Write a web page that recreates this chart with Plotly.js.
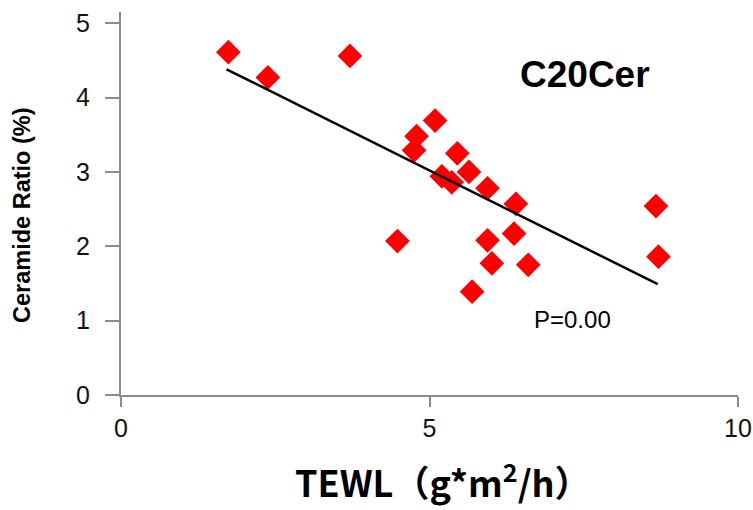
<!DOCTYPE html>
<html>
<head>
<meta charset="utf-8">
<script src="https://cdn.plot.ly/plotly-3.0.1.min.js"></script>
<style>html,body{margin:0;padding:0;background:#fff;}#chart{width:753px;height:510px;}</style>
</head>
<body>
<div id="chart"></div>
<script>
// TEWL values (x) and ceramide ratio (y)
const tewl = [1.74, 2.38, 3.71, 5.09, 4.79, 4.75, 5.45, 5.20, 5.36, 5.64,
              4.48, 5.69, 5.94, 6.40, 8.67, 5.94, 6.37, 6.01, 6.60, 8.71];
const ceramideRatio = [4.61, 4.27, 4.56, 3.69, 3.48, 3.29, 3.25, 2.94, 2.86, 3.00,
                       2.07, 1.39, 2.78, 2.57, 2.54, 2.08, 2.17, 1.77, 1.75, 1.86];
// regression line end points
const trendX = [1.71, 8.70];
const trendY = [4.38, 1.49];
const xTicks = [0, 5, 10];
const yTicks = [0, 1, 2, 3, 4, 5];

const axisGray = '#8c8c8c';

const traces = [
  {
    x: tewl, y: ceramideRatio, type: 'scatter', mode: 'markers',
    marker: {symbol: 'diamond', size: 19, color: '#ff0000', line: {width: 0}},
    hoverinfo: 'x+y', showlegend: false
  },
  {
    x: trendX, y: trendY, type: 'scatter', mode: 'lines',
    line: {color: '#000000', width: 2.5}, showlegend: false
  }
];

const layout = {
  width: 753, height: 510,
  margin: {l: 121, r: 15, t: 12, b: 115},
  paper_bgcolor: '#ffffff', plot_bgcolor: '#ffffff',
  font: {family: 'Liberation Sans, Arial, sans-serif', color: '#000'},
  xaxis: {
    range: [0, 10], tickvals: xTicks, ticktext: xTicks.map(String),
    showgrid: false, zeroline: false, showline: true,
    linecolor: axisGray, linewidth: 2,
    ticks: 'outside', ticklen: 10, tickwidth: 2, tickcolor: axisGray,
    tickfont: {size: 25, color: '#111'}
  },
  yaxis: {
    range: [0, 5.15], tickvals: yTicks, ticktext: yTicks.map(String),
    showgrid: false, zeroline: false, showline: true,
    linecolor: axisGray, linewidth: 2,
    ticks: 'outside', ticklen: 14, tickwidth: 2, tickcolor: axisGray,
    tickfont: {size: 25, color: '#111'},
    ticklabelstandoff: 10
  },
  annotations: [
    {xref: 'paper', yref: 'paper', x: 0.522, y: -0.222, xanchor: 'center', yanchor: 'middle',
     text: 'TEWL（g*m<sup>2</sup>/h）', showarrow: false,
     font: {family: 'Noto Sans CJK JP, sans-serif', size: 36, weight: 'bold', color: '#000'}},
    {xref: 'paper', yref: 'paper', x: -0.1605, y: 0.47, xanchor: 'center', yanchor: 'middle',
     text: 'Ceramide Ratio (%)', showarrow: false, textangle: -90,
     font: {family: 'Liberation Sans, Arial, sans-serif', size: 23.5, weight: 'bold', color: '#000'}},
    {xref: 'paper', yref: 'paper', x: 0.752, y: 0.836, xanchor: 'center', yanchor: 'middle',
     text: 'C20Cer', showarrow: false,
     font: {family: 'Liberation Sans, Arial, sans-serif', size: 37, weight: 'bold', color: '#000'}},
    {xref: 'paper', yref: 'paper', x: 0.731, y: 0.196, xanchor: 'center', yanchor: 'middle',
     text: 'P=0.00', showarrow: false,
     font: {family: 'Liberation Sans, Arial, sans-serif', size: 24, color: '#000'}}
  ]
};

Plotly.newPlot('chart', traces, layout, {displayModeBar: false, staticPlot: true});
</script>
</body>
</html>
